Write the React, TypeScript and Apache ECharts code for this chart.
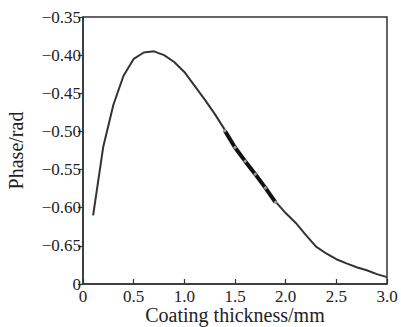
import React, { useEffect, useRef } from "react";
import * as echarts from "echarts";

const thickness = [0.1, 0.2, 0.3, 0.4, 0.5, 0.6, 0.7, 0.8, 0.9, 1.0, 1.1, 1.2, 1.3, 1.4, 1.5, 1.6, 1.7, 1.8, 1.9, 2.0, 2.1, 2.2, 2.3, 2.4, 2.5, 2.6, 2.7, 2.8, 2.9, 3.0];
const phase = [-0.61, -0.52, -0.465, -0.427, -0.405, -0.3965, -0.395, -0.4, -0.409, -0.422, -0.44, -0.458, -0.477, -0.498, -0.521, -0.539, -0.556, -0.574, -0.592, -0.607, -0.62, -0.636, -0.651, -0.66, -0.6675, -0.673, -0.678, -0.682, -0.687, -0.691];

const measThickness = [1.4, 1.5, 1.6, 1.7, 1.8, 1.9];
const measPhase = [-0.499, -0.521, -0.539, -0.556, -0.574, -0.593];

const xTitle = "Coating thickness/mm";
const yTitle = "Phase/rad";

const FONT = "Liberation Serif, Times New Roman, serif";

export default function App() {
  const ref = useRef<HTMLDivElement>(null);
  useEffect(() => {
    if (!ref.current) return;
    const chart = echarts.init(ref.current, null, { renderer: "svg" });
    chart.setOption({
      animation: false,
      grid: {
        left: 83,
        right: 14,
        top: 17,
        bottom: 43,
        containLabel: false,
        outerBoundsMode: "none",
        show: true,
        borderColor: "#333",
        borderWidth: 1.5,
      },
      xAxis: {
        type: "value",
        min: 0,
        max: 3,
        interval: 0.5,
        name: xTitle,
        nameLocation: "middle",
        nameGap: 21,
        nameMoveOverlap: false,
        nameTextStyle: { fontFamily: FONT, fontSize: 20, lineHeight: 20, color: "#222" },
        axisLine: { show: true, lineStyle: { color: "#333", width: 1.5 } },
        axisTick: { show: true, inside: true, length: 5, lineStyle: { color: "#333", width: 1.2 } },
        axisLabel: {
          fontFamily: FONT,
          fontSize: 17,
          lineHeight: 16,
          color: "#222",
          margin: 4,
          formatter: (v: number) => (Math.abs(v) < 1e-9 ? "0" : v.toFixed(1)),
        },
        splitLine: { show: false },
      },
      yAxis: {
        type: "value",
        min: -0.7,
        max: -0.35,
        interval: 0.05,
        name: yTitle,
        nameLocation: "middle",
        nameGap: 57,
        nameMoveOverlap: false,
        nameTextStyle: { fontFamily: FONT, fontSize: 20, color: "#222" },
        axisLine: { show: true, lineStyle: { color: "#333", width: 1.5 } },
        axisTick: { show: true, inside: false, length: 5, lineStyle: { color: "#333", width: 1.2 } },
        axisLabel: {
          fontFamily: FONT,
          fontSize: 17,
          color: "#222",
          margin: 2,
          padding: [7, 0, 0, 0],
          formatter: (v: number) =>
            Math.abs(v + 0.7) < 1e-6 ? "0" : v.toFixed(2).replace("-", "\u2212"),
        },
        splitLine: { show: false },
      },
      series: [
        {
          type: "line",
          data: thickness.map((t, i) => [t, phase[i]]),
          showSymbol: false,
          lineStyle: { color: "#333", width: 2 },
          z: 2,
        },
        {
          type: "line",
          data: measThickness.map((t, i) => [t, measPhase[i]]),
          symbol: "diamond",
          symbolSize: 4,
          itemStyle: { color: "#999" },
          lineStyle: { color: "#111", width: 4 },
          z: 3,
        },
      ],
    });
    return () => chart.dispose();
  }, []);
  return <div ref={ref} style={{ width: 401, height: 327, position: "absolute", left: 0, top: 0 }} />;
}
